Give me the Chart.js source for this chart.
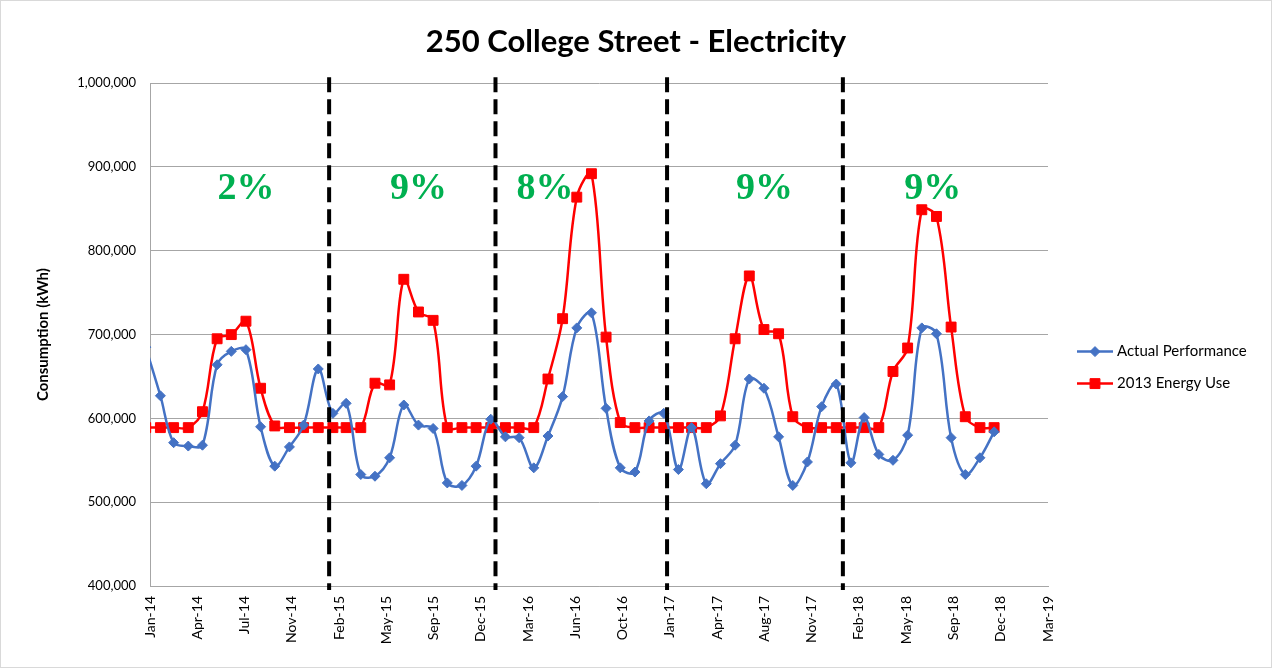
<!DOCTYPE html>
<html>
<head>
<meta charset="utf-8">
<script src="https://cdn.jsdelivr.net/npm/chart.js@4.4.0/dist/chart.umd.min.js"></script>
<style>
html,body{margin:0;padding:0;background:#fff;}
#wrap{position:relative;width:1272px;height:668px;box-sizing:border-box;border:1px solid #d9d9d9;}
canvas{display:block;}
</style>
</head>
<body>
<div id="wrap"><canvas id="chart" width="1270" height="666"></canvas></div>
<script>
// Monthly readings, Jan 2014 - Dec 2018
const months = [
  "2014-01","2014-02","2014-03","2014-04","2014-05","2014-06","2014-07","2014-08","2014-09","2014-10","2014-11","2014-12",
  "2015-01","2015-02","2015-03","2015-04","2015-05","2015-06","2015-07","2015-08","2015-09","2015-10","2015-11","2015-12",
  "2016-01","2016-02","2016-03","2016-04","2016-05","2016-06","2016-07","2016-08","2016-09","2016-10","2016-11","2016-12",
  "2017-01","2017-02","2017-03","2017-04","2017-05","2017-06","2017-07","2017-08","2017-09","2017-10","2017-11","2017-12",
  "2018-01","2018-02","2018-03","2018-04","2018-05","2018-06","2018-07","2018-08","2018-09","2018-10","2018-11","2018-12"
];

const actual = [
  685000,627000,571000,567000,568000,664000,680000,682000,590000,543000,566000,592000,
  659000,606000,618000,533000,531000,553000,616000,592000,588000,523000,520000,543000,
  599000,578000,577000,541000,579000,626000,708000,726000,612000,541000,536000,597000,
  606000,539000,589000,522000,546000,568000,647000,636000,578000,520000,548000,614000,
  641000,547000,601000,557000,550000,580000,708000,701000,577000,533000,553000,584000
];

const baseline2013 = [
  589000,589000,589000,589000,608000,695000,700000,716000,636000,591000,589000,589000,
  589000,589000,589000,589000,642000,640000,766000,727000,717000,589000,589000,589000,
  589000,589000,589000,589000,647000,719000,864000,892000,697000,595000,589000,589000,
  589000,589000,589000,589000,603000,695000,770000,706000,701000,602000,589000,589000,
  589000,589000,589000,589000,656000,684000,849000,841000,709000,602000,589000,589000
];

// x axis: days since 1 Jan 2014, ticks every 100 days
const xMinDay = 9;
const xTickStep = 100;
const xTickLabels = ["Jan-14","Apr-14","Jul-14","Nov-14","Feb-15","May-15","Sep-15","Dec-15","Mar-16","Jun-16",
  "Oct-16","Jan-17","Apr-17","Aug-17","Nov-17","Feb-18","May-18","Sep-18","Dec-18","Mar-19"];

// period dividers (days) and savings labels
const dividerDays = [388, 740, 1103, 1475];
const savingLabels = ["2%","9%","8%","9%","9%"];
const savingDays = [212, 577, 845, 1309, 1665];
const savingLevel = 874000;

const dayOf = (ym) => {
  const [y, m] = ym.split("-").map(Number);
  return (Date.UTC(y, m - 1, 1) - Date.UTC(2014, 0, 1)) / 864e5;
};
const toPts = (vals) => vals.map((v, i) => ({x: dayOf(months[i]), y: v}));

const FONT = "Lato, 'Liberation Sans', sans-serif";

const dividers = {
  id: "dividers",
  beforeDatasetsDraw(chart){
    const {ctx, scales: {x, y}} = chart;
    ctx.save();
    ctx.fillStyle = "#00b050";
    ctx.font = "bold 38px 'Liberation Serif', 'Times New Roman', serif";
    ctx.textAlign = "center";
    ctx.textBaseline = "middle";
    savingLabels.forEach((t, i)=>{
      ctx.fillText(t, x.getPixelForValue(savingDays[i]), y.getPixelForValue(savingLevel));
    });
    ctx.restore();
  },
  afterDatasetsDraw(chart){
    const {ctx, chartArea, scales: {x}} = chart;
    ctx.save();
    ctx.strokeStyle = "#000";
    ctx.lineWidth = 4;
    ctx.setLineDash([15, 7]);
    dividerDays.forEach(d=>{
      const px = x.getPixelForValue(d);
      ctx.beginPath();
      ctx.moveTo(px, chartArea.top - 6);
      ctx.lineTo(px, chartArea.bottom + 4);
      ctx.stroke();
    });
    ctx.restore();
  }
};

const sideLegend = {
  id: "sideLegend",
  afterDraw(chart){
    const {ctx, chartArea} = chart;
    const x0 = chartArea.right + 29;
    const mid = (chartArea.top + chartArea.bottom) / 2;
    ctx.save();
    chart.data.datasets.forEach((ds, i)=>{
      const yy = mid + 17 + i * 32;
      ctx.strokeStyle = ds.borderColor;
      ctx.lineWidth = 2.5;
      ctx.beginPath();
      ctx.moveTo(x0, yy);
      ctx.lineTo(x0 + 36, yy);
      ctx.stroke();
      ctx.fillStyle = ds.backgroundColor;
      ctx.strokeStyle = ds.borderColor;
      ctx.lineWidth = 1;
      Chart.helpers.drawPoint(ctx, {pointStyle: ds.pointStyle, radius: ds.pointRadius, borderWidth: 1}, x0 + 18, yy);
      ctx.fillStyle = "#000";
      ctx.font = "15px " + FONT;
      ctx.textAlign = "left";
      ctx.textBaseline = "middle";
      ctx.fillText(ds.label, x0 + 40, yy);
    });
    ctx.restore();
  }
};

new Chart(document.getElementById("chart"), {
  type: "line",
  data: {
    datasets: [
      {
        label: "Actual Performance",
        data: toPts(actual),
        borderColor: "#4472c4",
        backgroundColor: "#4472c4",
        borderWidth: 2.5,
        pointStyle: "rectRot",
        pointRadius: 5,
        pointBorderWidth: 1,
        tension: 0.35,
        clip: 0
      },
      {
        label: "2013 Energy Use",
        data: toPts(baseline2013),
        borderColor: "#ff0000",
        backgroundColor: "#ff0000",
        borderWidth: 2.5,
        pointStyle: "rect",
        pointRadius: 7,
        pointBorderWidth: 1,
        tension: 0.35,
        clip: 0
      }
    ]
  },
  options: {
    responsive: false,
    animation: false,
    devicePixelRatio: 1,
    layout: {padding: 0},
    plugins: {
      legend: {display: false},
      tooltip: {enabled: false},
      title: {
        display: true,
        text: "250 College Street - Electricity",
        color: "#000",
        font: {family: FONT, size: 31, weight: "bold"},
        padding: {top: 22, bottom: 23}
      }
    },
    scales: {
      x: {
        type: "linear",
        min: xMinDay,
        max: xMinDay + xTickStep * (xTickLabels.length - 1),
        afterBuildTicks(scale){
          scale.ticks = xTickLabels.map((t, i)=>({value: xMinDay + xTickStep * i}));
        },
        afterFit(scale){ scale.height = 81; },
        grid: {display: false, drawTicks: false},
        border: {display: true, color: "#a6a6a6", width: 1},
        ticks: {
          autoSkip: false,
          maxRotation: 90,
          minRotation: 90,
          padding: 10,
          color: "#000",
          font: {family: FONT, size: 14},
          callback: (v, i) => xTickLabels[i]
        }
      },
      y: {
        min: 400000,
        max: 1000000,
        afterFit(scale){ scale.width = 149; },
        grid: {color: "#a6a6a6", lineWidth: 1, drawTicks: false},
        border: {display: true, color: "#a6a6a6", width: 1},
        ticks: {
          stepSize: 100000,
          padding: 14,
          color: "#000",
          font: {family: FONT, size: 13},
          callback: (v) => v.toLocaleString("en-US")
        },
        title: {
          display: true,
          text: "Consumption (kWh)",
          color: "#000",
          font: {family: FONT, size: 15, weight: "bold"},
          padding: {top: 33, bottom: 0}
        }
      },
      // empty right-hand strip that holds the legend
      legendSpace: {
        position: "right",
        display: true,
        afterFit(scale){ scale.width = 223; },
        grid: {display: false, drawTicks: false},
        border: {display: false},
        ticks: {display: false}
      }
    }
  },
  plugins: [dividers, sideLegend]
});
</script>
</body>
</html>
